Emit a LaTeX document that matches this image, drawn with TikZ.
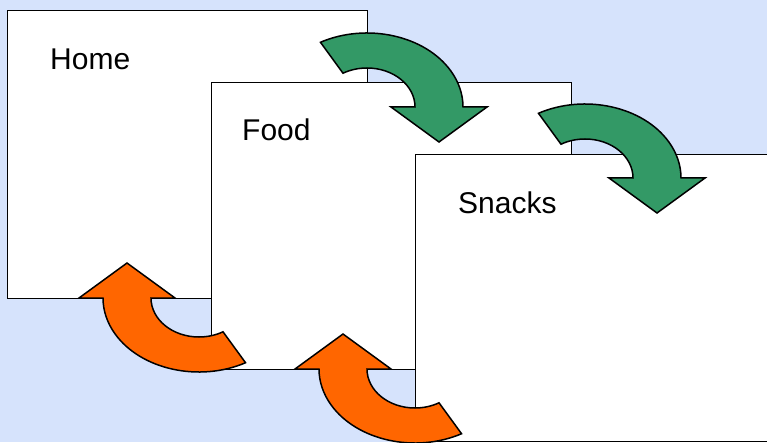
\documentclass[tikz,border=0pt]{standalone}
\usepackage{fontspec}
\setmainfont{Liberation Sans}
\definecolor{skybg}{RGB}{214,227,252}
\definecolor{fwdgreen}{RGB}{51,153,102}
\definecolor{backorange}{RGB}{255,102,0}
\usetikzlibrary{positioning}

\begin{document}
\begin{tikzpicture}[x=1pt, y=1pt,
      page/.style={draw, fill=white, line width=1.2pt, inner sep=0pt,
                   minimum width=360pt, anchor=north west},
      lbl/.style={font=\fontsize{30}{36}\selectfont, inner sep=0pt,
                  anchor=base west},
      turn/.style={draw, line width=1.5pt, line join=miter},
      bend/.pic={
        \path[pic actions] (119:96pt and 74pt)
          arc[start angle=119, end angle=0, x radius=96pt, y radius=74pt]
          -- (120,0) -- (72,-35) -- (24,0) -- (48,0)
          arc[start angle=0, end angle=120, x radius=48pt, y radius=39pt]
          -- cycle;
      }
  ]
    \useasboundingbox (0,0) rectangle (767,442);
    \fill[skybg] (0,0) rectangle (767,442);
    \begin{scope}
      \clip (0,0) rectangle (767,442);
      % pages
      \node[page, minimum height=288pt] (home) at (7,432) {};
      \node[lbl] (homelbl) at ([shift={(43,-60)}]home.north west) {Home};
      \node[page, minimum height=287pt] (food) at (211,360) {};
      \node[lbl] (foodlbl) at ([shift={(31,-59)}]food.north west) {Food};
      \node[page, minimum height=287pt, minimum width=400pt] (snacks) at (415,288) {};
      \node[lbl] (snackslbl) at ([shift={(43,-60)}]snacks.north west) {Snacks};
      % forward / back arrows
      \pic[turn, fill=fwdgreen] (fwdA) at (367,335) {bend};
      \pic[turn, fill=fwdgreen] (fwdB) at (585,264) {bend};
      \pic[turn, fill=backorange, rotate=180] (backA) at (199,144) {bend};
      \pic[turn, fill=backorange, rotate=180] (backB) at (415,73) {bend};
    \end{scope}
  \end{tikzpicture}
\end{document}
